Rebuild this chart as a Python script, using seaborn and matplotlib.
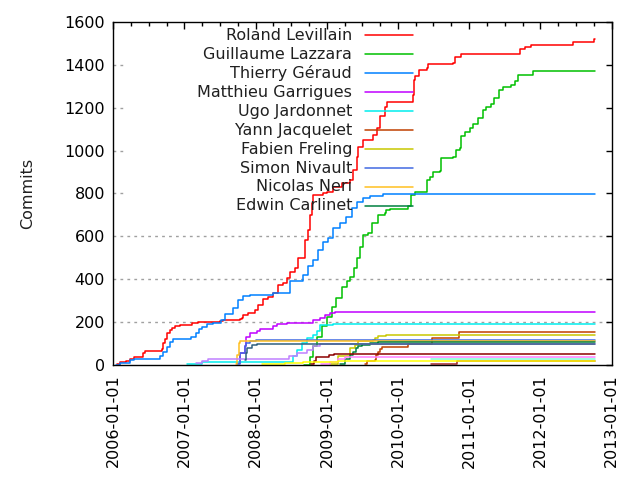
import matplotlib
matplotlib.use('Agg')
import matplotlib.pyplot as plt
import matplotlib.dates as mdates
import pandas as pd
import seaborn as sns

END = '2012-10-08'

# cumulative commits per author (step curves)
roland_dates = ['2006-01-20', '2006-02-05', '2006-03-08', '2006-03-29', '2006-04-18', '2006-06-03',
                '2006-06-13', '2006-09-08', '2006-09-13', '2006-09-23', '2006-10-03', '2006-10-18',
                '2006-10-28', '2006-11-12', '2006-12-08', '2007-02-09', '2007-03-11', '2007-06-21',
                '2007-07-01', '2007-07-16', '2007-10-12', '2007-10-23', '2007-10-27', '2007-11-22',
                '2007-12-28', '2008-01-11', '2008-02-06', '2008-03-03', '2008-03-28', '2008-04-23',
                '2008-05-19', '2008-06-08', '2008-06-24', '2008-07-19', '2008-08-03', '2008-09-08',
                '2008-09-24', '2008-10-04', '2008-10-14', '2008-10-20', '2008-12-12', '2009-01-01',
                '2009-02-02', '2009-03-18', '2009-04-28', '2009-05-14', '2009-06-03', '2009-06-10',
                '2009-07-04', '2009-08-25', '2009-09-12', '2009-09-28', '2009-10-24', '2009-11-03',
                '2010-03-17', '2010-03-22', '2010-03-30', '2010-04-20', '2010-05-27', '2010-06-04',
                '2010-10-10', '2010-10-18', '2010-11-21', '2011-09-16', '2011-10-12', '2011-11-15',
                '2012-06-15', '2012-10-04', END]
roland_commits = [5, 12, 19, 28, 38, 56, 65, 75, 100, 120, 150, 163, 173, 182, 187, 196, 198, 200,
                  205, 210, 215, 219, 233, 243, 257, 280, 308, 317, 336, 373, 383, 406, 434, 453,
                  499, 583, 630, 700, 755, 793, 802, 807, 830, 849, 863, 910, 970, 1017, 1050, 1073,
                  1106, 1162, 1204, 1227, 1260, 1330, 1348, 1376, 1384, 1403, 1407, 1435, 1449, 1474,
                  1482, 1491, 1505, 1519, 1519]

guillaume_dates = ['2008-09-05', '2008-10-04', '2008-10-22', '2008-11-10', '2008-12-05', '2009-01-01',
                   '2009-01-25', '2009-02-15', '2009-03-18', '2009-04-12', '2009-04-28', '2009-05-20',
                   '2009-06-05', '2009-06-20', '2009-07-05', '2009-07-30', '2009-08-20', '2009-09-20',
                   '2009-10-24', '2009-11-02', '2009-11-19', '2010-02-20', '2010-03-10', '2010-03-27',
                   '2010-05-27', '2010-06-13', '2010-06-29', '2010-08-03', '2010-08-11', '2010-10-10',
                   '2010-10-24', '2010-11-13', '2010-11-17', '2010-12-09', '2011-01-04', '2011-01-21',
                   '2011-02-15', '2011-03-11', '2011-03-29', '2011-04-23', '2011-05-10', '2011-06-01',
                   '2011-06-22', '2011-08-04', '2011-08-22', '2011-09-08', '2011-11-23', END]
guillaume_commits = [0, 37, 86, 132, 179, 225, 272, 311, 365, 389, 412, 451, 498, 552, 606, 616, 662,
                     700, 709, 723, 726, 742, 793, 807, 863, 877, 900, 905, 966, 970, 1003, 1012, 1068,
                     1087, 1106, 1124, 1152, 1190, 1204, 1218, 1246, 1283, 1297, 1306, 1325, 1353, 1372,
                     1372]

thierry_dates = ['2006-01-15', '2006-02-03', '2006-03-29', '2006-04-17', '2006-08-29', '2006-09-14',
                 '2006-10-01', '2006-10-18', '2006-11-04', '2007-02-06', '2007-02-27', '2007-03-15',
                 '2007-04-03', '2007-04-28', '2007-05-29', '2007-06-24', '2007-07-10', '2007-07-27',
                 '2007-09-08', '2007-10-04', '2007-10-29', '2007-12-03', '2008-04-01', '2008-06-25',
                 '2008-09-01', '2008-09-27', '2008-10-23', '2008-11-17', '2008-12-13', '2009-01-08',
                 '2009-02-03', '2009-03-08', '2009-04-11', '2009-05-07', '2009-06-02', '2009-07-06',
                 '2009-08-09', '2009-10-16', '2009-11-09', END]
thierry_commits = [0, 9, 23, 28, 39, 61, 84, 107, 121, 132, 149, 168, 177, 191, 194, 196, 210, 238,
                   264, 303, 322, 327, 337, 389, 420, 459, 490, 536, 575, 591, 638, 661, 692, 731, 762,
                   778, 788, 796, 798, 798]

matthieu_dates = ['2007-09-27', '2007-10-12', '2007-11-07', '2007-11-15', '2007-12-03', '2008-01-06',
                  '2008-01-23', '2008-04-01', '2008-04-18', '2008-06-09', '2008-10-23', '2008-11-26',
                  '2008-12-22', '2009-01-16', '2009-02-10', END]
matthieu_commits = [10, 54, 86, 132, 148, 156, 166, 182, 191, 194, 210, 218, 233, 244, 247, 247]

ugo_dates = ['2007-01-15', '2007-04-03', '2008-06-01', '2008-07-10', '2008-08-01', '2008-08-28',
             '2008-09-20', '2008-10-20', '2008-11-10', '2008-11-26', '2009-02-01', END]
ugo_commits = [3, 15, 15, 40, 70, 101, 124, 140, 160, 187, 190, 190]

yann_dates = ['2009-07-14', '2009-07-23', '2009-09-04', '2009-09-09', '2009-09-21', '2009-09-29',
              '2009-10-08', '2010-02-21', '2010-06-25', '2010-11-09', END]
yann_commits = [2, 16, 23, 47, 58, 73, 82, 98, 123, 152, 154]

fabien_dates = ['2009-01-15', '2009-03-01', '2009-04-27', '2009-05-23', '2009-06-09', '2009-08-24',
                '2009-09-04', '2009-09-21', '2009-11-01', END]
fabien_commits = [5, 40, 78, 93, 109, 117, 124, 135, 140, 140]

simon_dates = ['2007-09-25', '2007-10-14', '2007-11-07', '2007-11-15', '2007-12-03', '2008-01-05', END]
simon_commits = [5, 54, 86, 101, 109, 117, 117]

nicolas_dates = ['2007-09-20', '2007-09-28', '2007-10-06', '2007-10-12', END]
nicolas_commits = [5, 47, 101, 112, 112]

edwin_dates = ['2009-03-08', '2009-04-01', '2009-04-27', '2009-05-15', '2009-06-01', '2009-06-10',
               '2009-07-01', '2009-08-09', '2009-09-21', END]
edwin_commits = [5, 25, 47, 58, 78, 86, 93, 101, 107, 107]

other11_dates = ['2007-03-01', '2007-04-03', '2007-05-01', '2008-06-01', '2008-06-20', '2008-08-01',
                 '2008-09-20', '2008-10-23', '2008-11-26', END]
other11_commits = [8, 20, 26, 26, 39, 54, 67, 86, 96, 96]

other12_dates = ['2007-11-05', '2007-11-12', '2007-11-20', '2007-12-15', '2008-01-06', '2008-03-01', END]
other12_commits = [23, 54, 78, 93, 96, 98, 98]

other13_dates = ['2008-10-10', '2008-10-25', '2008-11-05', '2009-01-10', '2009-02-05', END]
other13_commits = [5, 19, 36, 47, 51, 51]

other15_dates = ['2008-12-01', '2009-01-15', '2009-03-01', '2009-04-01', END]
other15_commits = [3, 15, 28, 37, 37]

other16_dates = ['2010-06-20', END]
other16_commits = [26, 26]

other17_dates = ['2010-06-20', '2010-11-01', END]
other17_commits = [2, 16, 16]

other18_dates = ['2008-02-01', '2008-06-01', '2008-09-01', '2009-03-01', END]
other18_commits = [3, 8, 14, 19, 19]

authors = ['Roland Levillain', 'Guillaume Lazzara', 'Thierry Géraud', 'Matthieu Garrigues',
           'Ugo Jardonnet', 'Yann Jacquelet', 'Fabien Freling', 'Simon Nivault', 'Nicolas Neri',
           'Edwin Carlinet', 'other 11', 'other 12', 'other 13', 'other 15', 'other 16',
           'other 17', 'other 18']
all_dates = [roland_dates, guillaume_dates, thierry_dates, matthieu_dates, ugo_dates, yann_dates,
             fabien_dates, simon_dates, nicolas_dates, edwin_dates, other11_dates, other12_dates,
             other13_dates, other15_dates, other16_dates, other17_dates, other18_dates]
all_commits = [roland_commits, guillaume_commits, thierry_commits, matthieu_commits, ugo_commits,
               yann_commits, fabien_commits, simon_commits, nicolas_commits, edwin_commits,
               other11_commits, other12_commits, other13_commits, other15_commits, other16_commits,
               other17_commits, other18_commits]
colors = ['#ff0000', '#00c000', '#0080ff', '#c000ff', '#00eeee', '#c04000', '#c8c800', '#4169e1',
          '#ffc020', '#008040', '#c080ff', '#306080', '#8b0000', '#ff80ff', '#7fffd4', '#a52a2a',
          '#ffff00']
n_legend = 10


def main():
    sns.set_theme(style='white')
    plt.rcParams['font.family'] = ['DejaVu Sans']

    frames = []
    for name, d, c in zip(authors, all_dates, all_commits):
        frames.append(pd.DataFrame({'author': name, 'date': pd.to_datetime(d), 'commits': c}))
    df = pd.concat(frames, ignore_index=True)

    fig = plt.figure(figsize=(6.4, 4.8), dpi=100)
    ax = fig.add_axes([0.177, 0.24, 0.779, 0.714])

    # grid (only the lower part is visible in the original)
    for v in [200, 400, 600]:
        ax.axhline(v, color='#a0a0a0', lw=1, ls=(0, (2, 3)), zorder=0)
    for v in [800, 1000, 1200, 1400]:
        ax.axhline(v, xmax=0.025, color='#a0a0a0', lw=1, ls=(0, (2, 3)), zorder=0)

    sns.lineplot(data=df, x='date', y='commits', hue='author', hue_order=authors,
                 palette=colors, estimator=None, sort=False, drawstyle='steps-post',
                 linewidth=1.1, legend=False, ax=ax)

    ax.set_xlim(pd.Timestamp('2006-01-01'), pd.Timestamp('2013-01-01'))
    ax.set_ylim(0, 1600)
    ax.set_yticks(range(0, 1601, 200))
    ax.xaxis.set_major_locator(mdates.YearLocator())
    ax.xaxis.set_minor_locator(mdates.MonthLocator(bymonth=[4, 7, 10]))
    ax.xaxis.set_major_formatter(mdates.DateFormatter('%Y-%m-%d'))
    ax.tick_params(axis='x', which='both', direction='in', top=True, rotation=90,
                   labelsize=11.5, pad=7, colors='black')
    ax.tick_params(axis='x', which='major', length=5, width=1)
    ax.tick_params(axis='x', which='minor', length=3, width=1)
    ax.tick_params(axis='y', direction='in', right=True, length=4, width=1,
                   labelsize=11.5, pad=6, colors='black')
    ax.set_xlabel('')
    ax.set_ylabel('Commits', fontsize=11.5, labelpad=21, color='#202020')
    for s in ax.spines.values():
        s.set_color('black')
        s.set_linewidth(1)

    # key: right-aligned names with the sample line on the right
    for i in range(n_legend):
        y = 0.962 - i * 0.0554
        ax.text(0.479, y, authors[i], ha='right', va='center', fontsize=11.5,
                transform=ax.transAxes, color='#202020')
        ax.plot([0.505, 0.601], [y, y], color=colors[i], lw=1.1, transform=ax.transAxes)

    fig.savefig('out.png', dpi=100)


if __name__ == '__main__':
    main()
